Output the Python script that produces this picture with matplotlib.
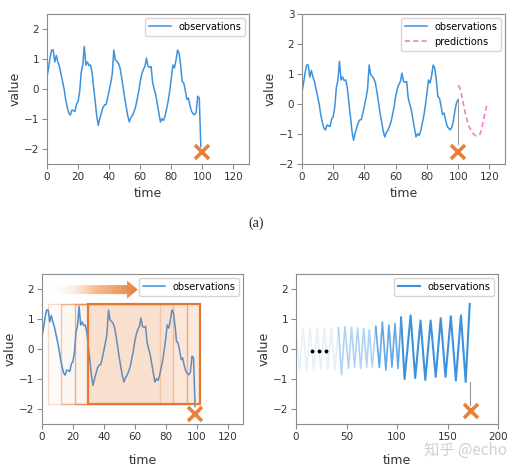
import matplotlib
matplotlib.use("Agg")
import matplotlib.pyplot as plt
import numpy as np
from matplotlib.patches import Rectangle, FancyArrow
from matplotlib.colors import LinearSegmentedColormap

# shared observation series, t = 0..96
obs_shared = [0.40, 0.70, 1.05, 1.30, 1.30, 0.90, 1.12, 0.90, 0.75, 0.50,
              0.25, 0.00, -0.35, -0.60, -0.80, -0.87, -0.70, -0.72, -0.75, -0.50,
              -0.42, -0.10, 0.55, 0.80, 1.42, 0.80, 0.90, 0.78, 0.80, 0.55,
              0.05, -0.40, -0.90, -1.21, -0.98, -0.80, -0.62, -0.53, -0.52, -0.30,
              -0.05, 0.20, 0.50, 1.30, 0.97, 0.92, 0.85, 0.70, 0.40, 0.05,
              -0.30, -0.60, -0.90, -1.10, -0.95, -0.88, -0.75, -0.60, -0.35, -0.08,
              0.25, 0.50, 0.65, 0.75, 1.03, 0.75, 0.72, 0.75, 0.20, 0.00,
              -0.20, -0.50, -0.80, -1.10, -0.99, -1.05, -0.90, -0.65, -0.40, -0.05,
              0.35, 0.80, 0.70, 0.95, 1.30, 1.20, 0.80, 0.25, 0.20, -0.05,
              -0.35, -0.30, -0.55, -0.74, -0.82, -0.86, -0.77]
end_anomaly = [-0.24, -0.30, -1.92]          # t = 97..99
end_normal = [-0.55, -0.20, 0.05, 0.15]      # t = 97..100
pred_t = list(range(100, 120))
pred_v = [0.62, 0.55, 0.35, 0.10, -0.15, -0.40, -0.60, -0.75, -0.85, -0.95,
          -1.00, -1.05, -1.07, -1.05, -1.00, -0.85, -0.60, -0.35, -0.10, -0.05]

# sliding windows (start, end) for panel c
win_start = [4, 12, 21.5, 30]
win_end = [76, 84.5, 94, 102.5]

# panel d: increasingly recent segments
seg_t = [
    [0, 3.5, 7, 10.5, 14, 17.5, 21, 24.5, 28, 31.5, 35, 38.5, 42],
    [42, 45, 48.5, 52, 55, 58, 61, 64, 67, 70, 72.5, 75.5, 79],
    [79, 82.5, 85.5, 89, 92, 95, 98, 101, 104],
    [104, 107.5, 113.5, 118, 123.3, 128, 133.3, 138.3, 143.3, 148, 153.3,
     158.3, 163.3, 168, 172],
]
seg_v = [
    [0.7, -0.7, 0.7, -0.7, 0.7, -0.7, 0.7, -0.7, 0.7, -0.7, 0.7, -0.7, 0.7],
    [0.7, -0.85, 0.75, -0.65, 0.72, -0.6, 0.7, -0.65, 0.68, -0.6, 0.65, -0.6, 0.75],
    [0.75, -0.62, 0.9, -0.7, 0.8, -0.6, 0.85, -0.65, 1.05],
    [1.05, -1.0, 1.12, -0.97, 0.95, -1.03, 0.95, -0.93, 1.03, -0.93, 1.09,
     -1.05, 1.12, -1.1, 1.5],
]
seg_alpha = [0.13, 0.4, 0.8, 1.0]

BLUE = "#3d92de"
ORANGE = "#e8803a"
PINK = "#ee80c6"
GRAY = "#333333"

plt.rcParams.update({
    "axes.edgecolor": "#8c8c8c",
    "xtick.color": "#8c8c8c",
    "ytick.color": "#8c8c8c",
    "xtick.labelcolor": GRAY,
    "ytick.labelcolor": GRAY,
    "axes.labelcolor": GRAY,
    "xtick.labelsize": 7.5,
    "ytick.labelsize": 7.5,
    "axes.labelsize": 9,
})

W, H = 521, 469
fig = plt.figure(figsize=(W / 100, H / 100), dpi=100)


def px_axes(l, t, r, b):
    return fig.add_axes([l / W, 1 - b / H, (r - l) / W, (b - t) / H])


def style(ax, xmax, ymin, ymax, xticks, labelpad=4):
    ax.set_xlim(0, xmax)
    ax.set_ylim(ymin, ymax)
    ax.set_xticks(xticks)
    ax.set_xlabel("time", labelpad=labelpad)
    ax.set_ylabel("value", labelpad=2)
    ax.tick_params(length=3.5, width=0.8, pad=2)
    ax.legend(loc="upper right", fontsize=7, borderaxespad=0.4, handlelength=2.2)


def cross(ax, x, y):
    ax.plot(x, y, marker="x", color=ORANGE, markersize=10, markeredgewidth=2.6,
            linestyle="none", zorder=6)


t_a = np.arange(len(obs_shared) + len(end_anomaly))
v_a = obs_shared + end_anomaly
t_n = np.arange(len(obs_shared) + len(end_normal))
v_n = obs_shared + end_normal

# top left
ax1 = px_axes(47, 14, 249, 164)
ax1.plot(t_a, v_a, color=BLUE, lw=1.1, label="observations")
cross(ax1, 100, -2.1)
style(ax1, 130, -2.5, 2.5, range(0, 121, 20))
ax1.set_yticks([-2, -1, 0, 1, 2])

# top right
ax2 = px_axes(302, 14, 505, 164)
ax2.plot(t_n, v_n, color=BLUE, lw=1.1, label="observations")
ax2.plot(pred_t, pred_v, color=PINK, lw=1.2, ls=(0, (3, 2)), label="predictions")
ax2.plot([100, 100], [v_n[-1], -1.35], color="#999999", lw=0.8)
cross(ax2, 100, -1.6)
style(ax2, 130, -2, 3, range(0, 121, 20))
ax2.set_yticks([-2, -1, 0, 1, 2, 3])

fig.text(256 / W, 1 - 223 / H, "(a)", ha="center", va="center",
         fontsize=10, family="Liberation Serif", color="#222222")

# bottom left
ax3 = px_axes(42, 274, 243, 424)
ax3.plot(t_a, v_a, color=BLUE, lw=1.1, label="observations")
cross(ax3, 99, -2.15)
n = len(win_start)
for i, (s, e) in enumerate(zip(win_start, win_end)):
    last = i == n - 1
    ax3.add_patch(Rectangle((s, -1.82), e - s, 1.5 + 1.82,
                            facecolor=(0.93, 0.5, 0.23, 0.17 if last else 0.03),
                            edgecolor=(0.9, 0.47, 0.2, 1.0 if last else 0.25 + 0.15 * i),
                            lw=1.6 if last else 1.0, zorder=4))
arrow = FancyArrow(5, 1.98, 57, 0, width=0.3, head_width=0.6, head_length=7,
                   length_includes_head=True, facecolor="none", edgecolor="none")
ax3.add_patch(arrow)
cmap = LinearSegmentedColormap.from_list("fade", [(1, 1, 1, 0), (0.95, 0.6, 0.35, 0.65),
                                                  (0.91, 0.5, 0.22, 1)])
grad = np.linspace(0, 1, 256).reshape(1, -1)
im = ax3.imshow(grad, extent=[5, 62, 1.6, 2.4], cmap=cmap, aspect="auto", zorder=5)
im.set_clip_path(arrow)
style(ax3, 130, -2.5, 2.5, range(0, 121, 20), labelpad=9)
ax3.set_yticks([-2, -1, 0, 1, 2])

# bottom right
ax4 = px_axes(296, 274, 498, 424)
for i, (ts, vs, a) in enumerate(zip(seg_t, seg_v, seg_alpha)):
    ax4.plot(ts, vs, color=BLUE, alpha=a, lw=1.5 if i == 3 else 1.2,
             label="observations" if i == 3 else None)
ax4.plot([16, 23, 30], [-0.05, -0.05, -0.05], marker="o", color="black",
         markersize=1.8, linestyle="none")
ax4.plot([172, 172], [-1.1, -1.85], color="#999999", lw=0.8)
cross(ax4, 173, -2.08)
style(ax4, 200, -2.5, 2.5, range(0, 201, 50), labelpad=9)
ax4.set_yticks([-2, -1, 0, 1, 2])

fig.text(465 / W, 1 - 450 / H, "知乎 @echo", ha="center", va="center",
         fontsize=11, color="#d0d0d0",
         family=["Noto Sans CJK SC", "DejaVu Sans"])

fig.savefig("out.png", dpi=100)
